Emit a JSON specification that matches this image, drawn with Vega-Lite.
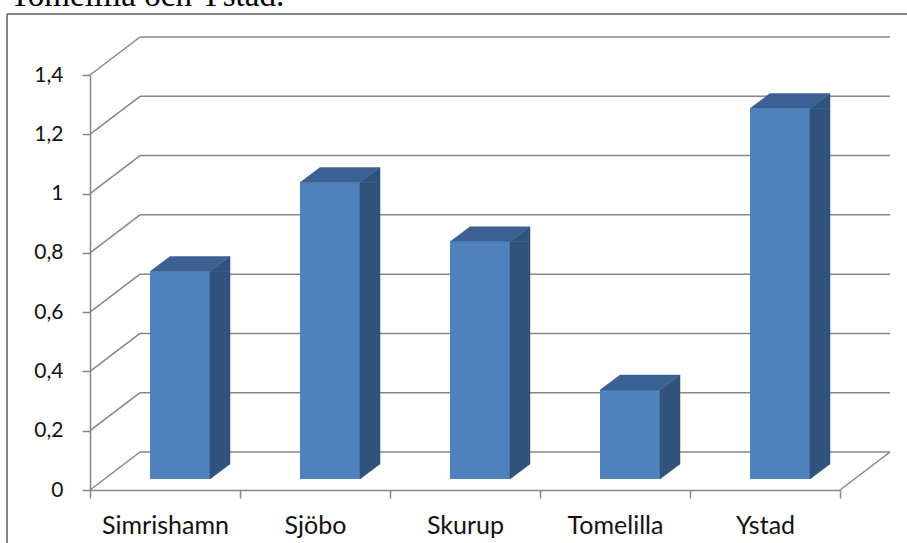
{
  "$schema": "https://vega.github.io/schema/vega-lite/v6.json",
  "width": 900,
  "height": 529,
  "autosize": {"type": "none"},
  "padding": {"left": 7, "top": 14, "right": 0, "bottom": 0},
  "background": "white",
  "title": {
    "text": "Tomelilla och Ystad.",
    "anchor": "start",
    "frame": "group",
    "font": "Liberation Serif",
    "fontSize": 33,
    "fontWeight": "normal",
    "color": "#000000",
    "baseline": "alphabetic",
    "offset": -26,
    "dx": 3
  },
  "config": {
    "view": {"stroke": null},
    "axis": {
      "domainColor": "#868686",
      "domainWidth": 1.5,
      "tickColor": "#868686",
      "tickWidth": 1.5,
      "labelColor": "#111111",
      "labelFont": "Lato",
      "grid": false,
      "title": null
    }
  },
  "datasets": {
    "kommuner": [
      {"kommun": "Simrishamn", "varde": 0.7},
      {"kommun": "Sjöbo", "varde": 1.0},
      {"kommun": "Skurup", "varde": 0.8},
      {"kommun": "Tomelilla", "varde": 0.3},
      {"kommun": "Ystad", "varde": 1.25}
    ],
    "stodlinjer": [
      {"niva": 0}, {"niva": 0.2}, {"niva": 0.4}, {"niva": 0.6},
      {"niva": 0.8}, {"niva": 1.0}, {"niva": 1.2}, {"niva": 1.4}
    ]
  },
  "data": {"name": "kommuner"},
  "layer": [
    {
      "description": "chart frame, left edge",
      "data": {"values": [{}]},
      "mark": {"type": "rule", "color": "#868686", "strokeWidth": 2},
      "encoding": {
        "x": {"value": 0},
        "y": {"value": 0},
        "y2": {"value": "height"}
      }
    },
    {
      "description": "chart frame, top edge",
      "data": {"values": [{}]},
      "mark": {"type": "rule", "color": "#868686", "strokeWidth": 2},
      "encoding": {
        "y": {"value": 0},
        "x": {"value": 0},
        "x2": {"value": "width"}
      }
    },
    {
      "description": "back wall gridlines",
      "data": {"name": "stodlinjer"},
      "mark": {"type": "rule", "color": "#868686", "strokeWidth": 1.5, "xOffset": 50, "x2Offset": 50, "yOffset": -38},
      "encoding": {
        "x": {"datum": "Simrishamn", "bandPosition": 0, "axis": null},
        "x2": {"datum": "Ystad", "bandPosition": 1},
        "y": {"field": "niva", "type": "quantitative", "axis": null}
      }
    },
    {
      "description": "side wall depth edges",
      "data": {"name": "stodlinjer"},
      "mark": {"type": "point", "shape": "M0,0L50,-38", "size": 4, "filled": false, "opacity": 1, "stroke": "#868686", "strokeWidth": 1.5},
      "encoding": {
        "x": {"datum": "Simrishamn", "bandPosition": 0, "axis": null},
        "y": {"field": "niva", "type": "quantitative", "axis": null}
      }
    },
    {
      "description": "floor, right depth edge",
      "data": {"values": [{}]},
      "mark": {"type": "point", "shape": "M0,0L50,-38", "size": 4, "filled": false, "opacity": 1, "stroke": "#868686", "strokeWidth": 1.5},
      "encoding": {
        "x": {"datum": "Ystad", "bandPosition": 1, "axis": null},
        "y": {"datum": 0, "axis": null}
      }
    },
    {
      "description": "front faces; carries the front x and y axes",
      "mark": {"type": "bar", "color": "#4F81BD", "width": 60, "xOffset": 15, "yOffset": -11, "y2Offset": -11},
      "encoding": {
        "x": {
          "field": "kommun",
          "type": "nominal",
          "sort": null,
          "scale": {
            "type": "band",
            "domain": ["Simrishamn", "Sjöbo", "Skurup", "Tomelilla", "Ystad"],
            "range": [83, 833],
            "paddingInner": 0,
            "paddingOuter": 0
          },
          "axis": {
            "orient": "bottom",
            "offset": -53,
            "tickBand": "extent",
            "tickSize": 8,
            "labelAngle": 0,
            "labelFontSize": 25,
            "labelPadding": 15
          }
        },
        "y": {
          "field": "varde",
          "type": "quantitative",
          "scale": {"domain": [0, 1.4], "range": [476, 61], "nice": false, "zero": true},
          "axis": {
            "orient": "left",
            "offset": -83,
            "values": [0, 0.2, 0.4, 0.6, 0.8, 1, 1.2, 1.4],
            "format": "~g",
            "labelExpr": "replace(datum.label, '.', ',')",
            "tickSize": 8,
            "labelFontSize": 21,
            "labelPadding": 19
          }
        },
        "y2": {"datum": 0}
      }
    },
    {
      "description": "side faces, middle part",
      "mark": {"type": "bar", "color": "#30527C", "stroke": "#30527C", "strokeWidth": 0.5, "width": 20, "xOffset": 55, "yOffset": -11, "y2Offset": -26},
      "encoding": {
        "x": {"field": "kommun", "type": "nominal", "sort": null, "axis": null},
        "y": {"field": "varde", "type": "quantitative", "axis": null},
        "y2": {"datum": 0}
      }
    },
    {
      "description": "side faces, bottom corner",
      "mark": {"type": "point", "shape": "M45,-26L45,-11L65,-26Z", "size": 4, "filled": true, "opacity": 1, "color": "#30527C", "stroke": "#30527C", "strokeWidth": 0.5},
      "encoding": {
        "x": {"field": "kommun", "type": "nominal", "sort": null, "axis": null},
        "y": {"datum": 0, "axis": null}
      }
    },
    {
      "description": "side faces, top corner",
      "mark": {"type": "point", "shape": "M45,-11L65,-26L65,-11Z", "size": 4, "filled": true, "opacity": 1, "color": "#30527C", "stroke": "#30527C", "strokeWidth": 0.5},
      "encoding": {
        "x": {"field": "kommun", "type": "nominal", "sort": null, "axis": null},
        "y": {"field": "varde", "type": "quantitative", "axis": null}
      }
    },
    {
      "description": "top faces",
      "mark": {"type": "point", "shape": "M-15,-11L45,-11L65,-26L5,-26Z", "size": 4, "filled": true, "opacity": 1, "color": "#3A6192", "stroke": "#3A6192", "strokeWidth": 0.5},
      "encoding": {
        "x": {"field": "kommun", "type": "nominal", "sort": null, "axis": null},
        "y": {"field": "varde", "type": "quantitative", "axis": null}
      }
    }
  ],
  "resolve": {"axis": {"x": "independent", "y": "independent"}}
}
